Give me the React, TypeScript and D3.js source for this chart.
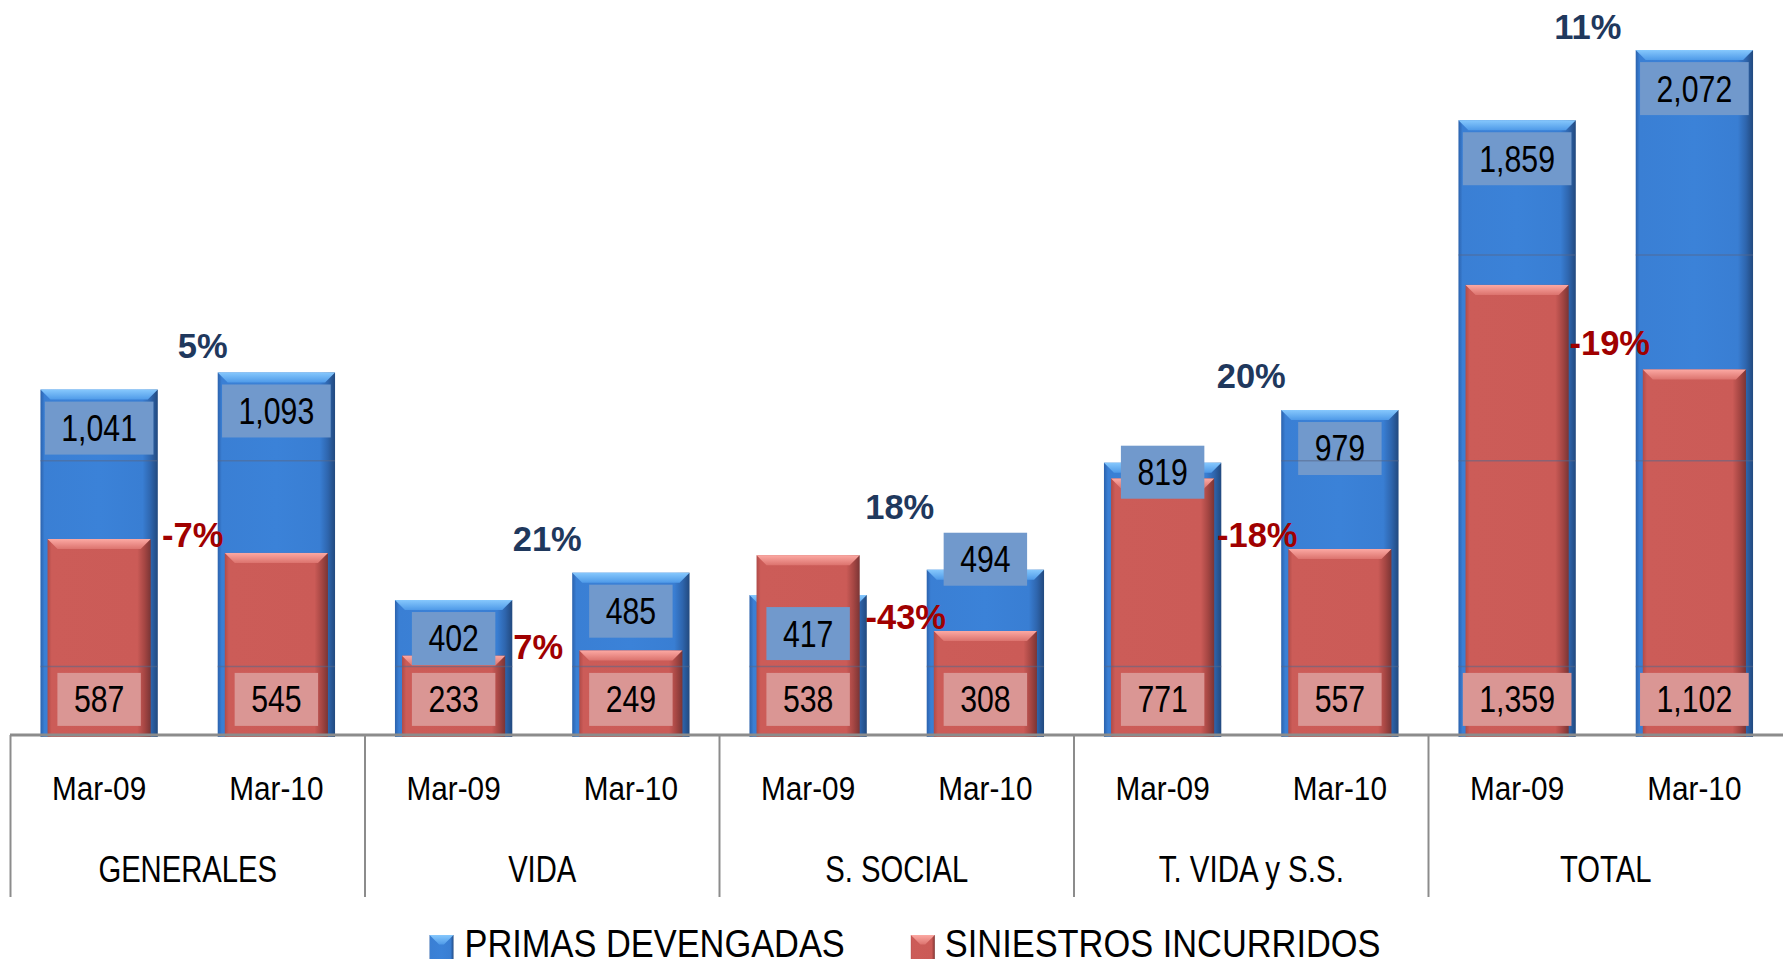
import React from "react";
import * as d3 from "d3";

const groups = ["GENERALES", "VIDA", "S. SOCIAL", "T. VIDA y S.S.", "TOTAL"];
const periods = ["Mar-09", "Mar-10"];
const primasMar09 = [1041, 402, 417, 819, 1859];
const primasMar10 = [1093, 485, 494, 979, 2072];
const siniestrosMar09 = [587, 233, 538, 771, 1359];
const siniestrosMar10 = [545, 249, 308, 557, 1102];
const primasGrowth = ["5%", "21%", "18%", "20%", "11%"];
const siniestrosGrowth = ["-7%", "7%", "-43%", "-18%", "-19%"];
const primasGrowthAt = [1176, 590, 685, 1085, 2142];
const siniestrosGrowthAt = [600, 260, 351, 600, 1183];
const gridValues = [200, 825, 1450];
const seriesNames = ["PRIMAS DEVENGADAS", "SINIESTROS INCURRIDOS"];

const W = 1783;
const H = 965;
const SANS = "'Liberation Sans', Arial, sans-serif";

// hand-placed annotation nudges (px)
const primasGrowthDx = [15, 5, 3, 0, -18];
const siniestrosGrowthDx = [5, -4, 9, 6, 4];
const primasLabelLift: Record<string, number> = {
  "T. VIDA y S.S.|Mar-09": 29,
  "S. SOCIAL|Mar-10": 49,
};

let _ctx: CanvasRenderingContext2D | null = null;
function textWidth(t: string, size: number, sx: number) {
  if (!_ctx) _ctx = document.createElement("canvas").getContext("2d");
  if (!_ctx) return t.length * size * 0.5 * sx;
  _ctx.font = `${size}px 'Liberation Sans', Arial, sans-serif`;
  return _ctx.measureText(t).width * sx;
}

// condensed text: Arial-metric glyphs squeezed horizontally (Arial Narrow look)
function NText({
  x,
  y,
  size,
  sx,
  anchor = "middle",
  children,
}: {
  x: number;
  y: number;
  size: number;
  sx: number;
  anchor?: string;
  children: string;
}) {
  const len = textWidth(children, size, sx);
  return (
    <text
      x={x}
      y={y}
      dy="0.36em"
      textAnchor={anchor}
      fontFamily={SANS}
      fontSize={size}
      textLength={len}
      lengthAdjust="spacingAndGlyphs"
      fill="#000"
    >
      {children}
    </text>
  );
}

function Bar({ x, y, w, h, kind }: { x: number; y: number; w: number; h: number; kind: string }) {
  const bev = Math.min(10, h / 2.5);
  return (
    <g>
      <rect x={x} y={y} width={w} height={h} fill={`url(#body-${kind})`} />
      <polygon
        points={`${x},${y} ${x + w},${y} ${x + w - bev},${y + bev} ${x + bev},${y + bev}`}
        fill={`url(#bevel-${kind})`}
      />
    </g>
  );
}

export default function App() {
  const baseY = 737;
  const x0 = d3.scaleBand<string>().domain(groups).range([10.5, 10.5 + 354.5 * groups.length]).padding(0);
  const x1 = d3.scaleBand<string>().domain(periods).range([0, x0.bandwidth()]).padding(0);
  const y = d3.scaleLinear().domain([0, 2200]).range([732.4, 732.4 - 2200 * 0.3293]);

  const blueW = x1.bandwidth() * 0.662;
  const redW = x1.bandwidth() * 0.582;

  const primas = [primasMar09, primasMar10];
  const siniestros = [siniestrosMar09, siniestrosMar10];

  const bars = groups.flatMap((g, gi) =>
    periods.map((p, pi) => {
      const cx = (x0(g) as number) + (x1(p) as number) + x1.bandwidth() / 2;
      return { g, p, gi, pi, cx, prima: primas[pi][gi], sin: siniestros[pi][gi] };
    })
  );

  const VAL = 36;
  const VALSX = 0.84;
  const fmt = d3.format(",");

  const LEG = 38;
  const LEGSX = 0.905;
  const lw1 = textWidth(seriesNames[0], LEG, LEGSX);
  const lw2 = textWidth(seriesNames[1], LEG, LEGSX);
  const iconW = 24;
  const iconH = 24;
  const legTotal = iconW + 11 + lw1 + 66 + iconW + 10 + lw2;
  const legX = 905 - legTotal / 2;
  const legY = 943;
  const leg2X = legX + iconW + 11 + lw1 + 66;

  return (
    <svg
      width={W}
      height={H}
      viewBox={`0 0 ${W} ${H}`}
      style={{ position: "absolute", left: 0, top: 0, display: "block", background: "#fff" }}
    >
      <defs>
        <linearGradient id="body-blue" x1="0" x2="1" y1="0" y2="0">
          <stop offset="0" stopColor="#2b62ad" />
          <stop offset="0.035" stopColor="#3a7fd4" />
          <stop offset="0.5" stopColor="#3b82d8" />
          <stop offset="0.87" stopColor="#397ed3" />
          <stop offset="0.94" stopColor="#2e65ad" />
          <stop offset="1" stopColor="#22497e" />
        </linearGradient>
        <linearGradient id="body-red" x1="0" x2="1" y1="0" y2="0">
          <stop offset="0" stopColor="#b04b48" />
          <stop offset="0.04" stopColor="#cc5c58" />
          <stop offset="0.87" stopColor="#cb5b57" />
          <stop offset="0.94" stopColor="#a54643" />
          <stop offset="1" stopColor="#7a3535" />
        </linearGradient>
        <linearGradient id="bevel-blue" x1="0" x2="0" y1="0" y2="1">
          <stop offset="0" stopColor="#86c8fd" />
          <stop offset="1" stopColor="#4f9ae8" />
        </linearGradient>
        <linearGradient id="bevel-red" x1="0" x2="0" y1="0" y2="1">
          <stop offset="0" stopColor="#fca9a3" />
          <stop offset="1" stopColor="#dc736e" />
        </linearGradient>
        <clipPath id="barsClip">
          {bars.map((b) => (
            <rect
              key={`c-${b.g}-${b.p}`}
              x={b.cx - blueW / 2}
              y={y(Math.max(b.prima, b.sin))}
              width={blueW}
              height={baseY - y(Math.max(b.prima, b.sin))}
            />
          ))}
        </clipPath>
      </defs>

      {/* primas (back) */}
      {bars.map((b) => (
        <Bar
          key={`p-${b.g}-${b.p}`}
          x={b.cx - blueW / 2}
          y={y(b.prima)}
          w={blueW}
          h={baseY - y(b.prima)}
          kind="blue"
        />
      ))}
      {/* siniestros (front) */}
      {bars.map((b) => (
        <Bar
          key={`s-${b.g}-${b.p}`}
          x={b.cx - redW / 2}
          y={y(b.sin)}
          w={redW}
          h={baseY - y(b.sin)}
          kind="red"
        />
      ))}

      {/* value labels */}
      {bars.map((b) => {
        const t = fmt(b.prima);
        const bw = textWidth(t, VAL, VALSX) + 33;
        const lift = primasLabelLift[`${b.g}|${b.p}`] || 0;
        const top = y(b.prima) + 12 - lift;
        return (
          <g key={`pl-${b.g}-${b.p}`}>
            <rect x={b.cx - bw / 2} y={top} width={bw} height={53} fill="#7199cc" />
            <NText x={b.cx} y={top + 26.5} size={VAL} sx={VALSX}>
              {t}
            </NText>
          </g>
        );
      })}
      {bars.map((b) => {
        const t = fmt(b.sin);
        const bw = textWidth(t, VAL, VALSX) + 33;
        const top = y(0) - 59.5;
        return (
          <g key={`sl-${b.g}-${b.p}`}>
            <rect x={b.cx - bw / 2} y={top} width={bw} height={53} fill="#da9694" />
            <NText x={b.cx} y={top + 26.5} size={VAL} sx={VALSX}>
              {t}
            </NText>
          </g>
        );
      })}

      {/* faint gridlines seen through the bars */}
      <g clipPath="url(#barsClip)">
        {gridValues.map((v) => (
          <line key={`g-${v}`} x1={0} x2={W} y1={y(v)} y2={y(v)} stroke="#56688a" strokeOpacity={0.55} strokeWidth={1.5} />
        ))}
      </g>

      {/* growth annotations */}
      {groups.map((g, gi) => {
        const mid = (x0(g) as number) + x0.bandwidth() / 2;
        return (
          <g key={`ann-${g}`}>
            <text
              x={mid + primasGrowthDx[gi]}
              y={y(primasGrowthAt[gi])}
              dy="0.36em"
              textAnchor="middle"
              fontFamily={SANS}
              fontWeight="bold"
              fontSize={34.5}
              fill="#1f385d"
            >
              {primasGrowth[gi]}
            </text>
            <text
              x={mid + siniestrosGrowthDx[gi]}
              y={y(siniestrosGrowthAt[gi])}
              dy="0.36em"
              textAnchor="middle"
              fontFamily={SANS}
              fontWeight="bold"
              fontSize={34.5}
              fill="#a00000"
            >
              {siniestrosGrowth[gi]}
            </text>
          </g>
        );
      })}

      {/* category axis */}
      <line x1={10} x2={W} y1={735} y2={735} stroke="#8c8c8c" strokeWidth={3} />
      {groups.map((g) => (
        <line
          key={`sep-${g}`}
          x1={x0(g) as number}
          x2={x0(g) as number}
          y1={735}
          y2={897}
          stroke="#8c8c8c"
          strokeWidth={2}
        />
      ))}
      {bars.map((b) => (
        <NText key={`per-${b.g}-${b.p}`} x={b.cx} y={788.5} size={33} sx={0.9}>
          {b.p}
        </NText>
      ))}
      {groups.map((g) => (
        <NText key={`gl-${g}`} x={(x0(g) as number) + x0.bandwidth() / 2} y={868.5} size={37} sx={0.79}>
          {g}
        </NText>
      ))}

      {/* legend */}
      <g>
        <Bar x={legX} y={legY - iconH / 2 + 4} w={iconW} h={iconH} kind="blue" />
        <NText x={legX + iconW + 11} y={legY} size={LEG} sx={LEGSX} anchor="start">
          {seriesNames[0]}
        </NText>
        <Bar x={leg2X} y={legY - iconH / 2 + 4} w={iconW} h={iconH} kind="red" />
        <NText x={leg2X + iconW + 10} y={legY} size={LEG} sx={LEGSX} anchor="start">
          {seriesNames[1]}
        </NText>
      </g>
    </svg>
  );
}
